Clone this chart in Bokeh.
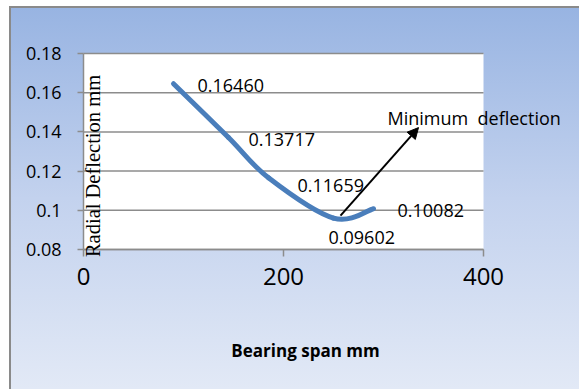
import numpy as np
from bokeh.plotting import figure
from bokeh.models import (Range1d, FixedTicker, Label, Arrow, NormalHead, ColumnDataSource)
from bokeh.core.properties import value
from bokeh.embed import file_html
from bokeh.resources import INLINE

# ---- data ----
span_mm = [90, 145, 185, 250, 290]
deflection_mm = [0.16460, 0.13717, 0.11659, 0.09602, 0.10082]
point_labels = [f"{v:.5f}" for v in deflection_mm]
x_ticks = [0, 200, 400]
y_ticks = [0.08, 0.10, 0.12, 0.14, 0.16, 0.18]
y_tick_labels = ["0.08", "0.1", "0.12", "0.14", "0.16", "0.18"]
x_title = "Bearing span mm"
y_title = "Radial Deflection mm"
note_text = "Minimum\u00a0 deflection"

# label placement (pixels, relative to each point)
label_dx = [24, 20, 29, -5, 24]
label_dy = [2, 2, 8, 19, 2]

FONT = "Open Sans"

# whole canvas is the frame; axes are fixed at the plot-area edges
p = figure(width=570, height=383, output_backend="svg", toolbar_location=None,
           x_range=Range1d(-72, 498), y_range=Range1d(0.00755, 0.20296),
           min_border_left=0, min_border_right=0, min_border_top=0, min_border_bottom=0)
p.styles = {
    "margin-left": "9px", "margin-top": "6px",
    "border-left": "2px solid #8a8a8a", "border-top": "2px solid #8a8a8a",
    "background": "linear-gradient(to bottom, #98b4e2 0%, #c3d2ee 50%, #e2e9f6 100%)",
}
p.background_fill_color = None
p.border_fill_color = None
p.outline_line_color = None
p.grid.visible = False

# white plot area
p.quad(left=[x_ticks[0]], right=[x_ticks[-1]], bottom=[y_ticks[0]], top=[y_ticks[-1]],
       fill_color="white", line_color=None)
# horizontal gridlines
p.segment(x0=[x_ticks[0]] * len(y_ticks), x1=[x_ticks[-1]] * len(y_ticks), y0=y_ticks, y1=y_ticks,
          line_color="#8c8c8c", line_width=1.5)

# axes
p.xaxis.ticker = FixedTicker(ticks=x_ticks)
p.yaxis.ticker = FixedTicker(ticks=y_ticks)
p.yaxis.major_label_overrides = {t: l for t, l in zip(y_ticks, y_tick_labels)}
p.xaxis.fixed_location = y_ticks[0]
p.yaxis.fixed_location = x_ticks[0]
p.xaxis.bounds = (x_ticks[0], x_ticks[-1])
p.yaxis.bounds = (y_ticks[0], y_ticks[-1])
for ax in (p.xaxis[0], p.yaxis[0]):
    ax.axis_line_color = "#8c8c8c"
    ax.axis_line_width = 1.5
    ax.major_tick_line_color = "#8c8c8c"
    ax.major_tick_line_width = 1.5
    ax.major_tick_in = 0
    ax.minor_tick_line_color = None
    ax.major_label_text_font = FONT
    ax.major_label_text_color = "black"
p.yaxis.major_tick_out = 6
p.yaxis.major_label_standoff = 16
p.yaxis.major_label_text_font_size = "18px"
p.xaxis.major_tick_out = 7
p.xaxis.major_label_standoff = 12
p.xaxis.major_label_text_font_size = "24px"

# smoothed line via bezier segments (Catmull-Rom style control points)
xs = np.array(span_mm, dtype=float)
ys = np.array(deflection_mm, dtype=float)
n = len(xs)
x0, y0, x1, y1, cx0, cy0, cx1, cy1 = [], [], [], [], [], [], [], []
for i in range(n - 1):
    ip = max(i - 1, 0)
    inn = min(i + 2, n - 1)
    x0.append(xs[i]); y0.append(ys[i]); x1.append(xs[i + 1]); y1.append(ys[i + 1])
    cx0.append(xs[i] + (xs[i + 1] - xs[ip]) / 6); cy0.append(ys[i] + (ys[i + 1] - ys[ip]) / 6)
    cx1.append(xs[i + 1] - (xs[inn] - xs[i]) / 6); cy1.append(ys[i + 1] - (ys[inn] - ys[i]) / 6)
p.bezier(x0=x0, y0=y0, x1=x1, y1=y1, cx0=cx0, cy0=cy0, cx1=cx1, cy1=cy1,
         line_color="#4a7ebb", line_width=5, line_cap="round")

# data labels
src = ColumnDataSource(dict(x=span_mm, y=deflection_mm, t=point_labels, dx=label_dx, dy=label_dy))
p.text(x="x", y="y", text="t", x_offset="dx", y_offset="dy", source=src,
       text_font=value(FONT), text_font_size="18px", text_color="black",
       text_align="left", text_baseline="middle")

# annotation arrow
p.add_layout(Arrow(x_start=257, y_start=0.0973, x_end=335, y_end=0.1422,
                   line_color="black", line_width=2,
                   end=NormalHead(size=11, fill_color="black", line_color="black")))
p.add_layout(Label(x=304, y=0.1473, text=note_text, text_font=FONT, text_font_size="18px",
                   text_color="black", text_baseline="middle", text_align="left"))

# y title inside plot (serif, rotated)
p.add_layout(Label(x=9, y=0.1226, text=y_title, angle=np.pi / 2,
                   text_font="Liberation Serif", text_font_size="20.5px",
                   text_color="black", text_align="center", text_baseline="alphabetic"))
# x title
p.add_layout(Label(x=222, y=0.0285, text=x_title,
                   text_font=FONT, text_font_size="17px",
                   text_font_style="bold", text_color="black",
                   text_align="center", text_baseline="middle"))

open("out.html", "w").write(file_html(p, INLINE))
